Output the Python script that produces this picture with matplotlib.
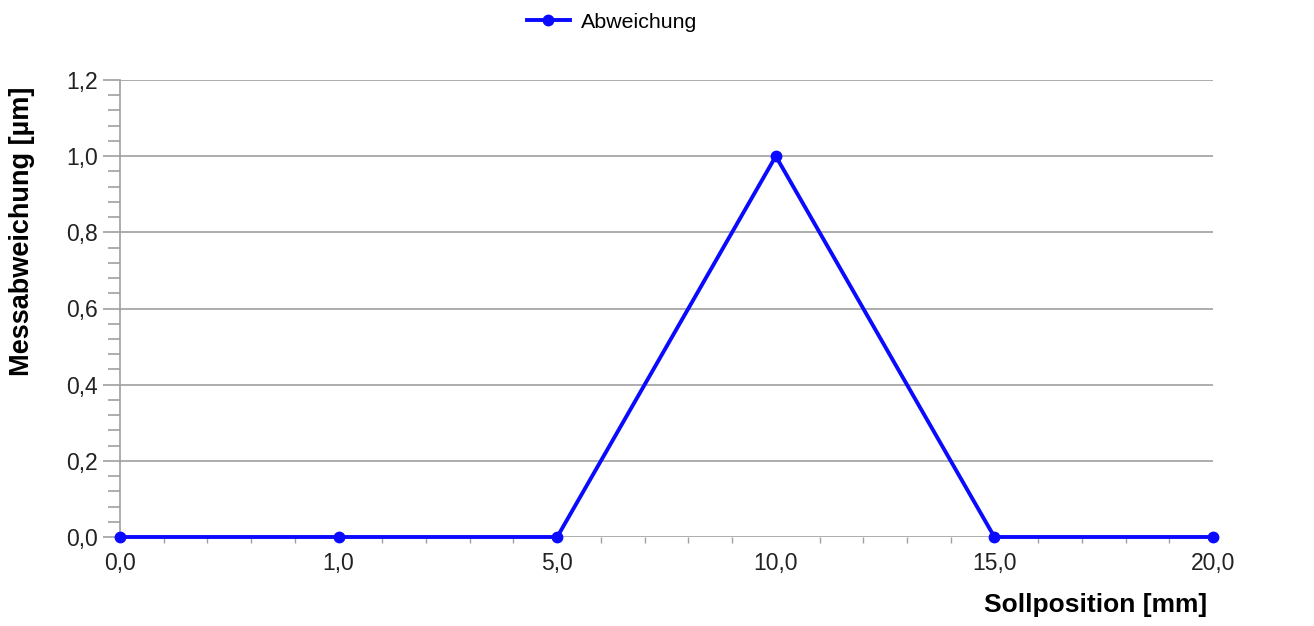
import matplotlib
matplotlib.use("Agg")
import matplotlib.pyplot as plt
from matplotlib.ticker import MultipleLocator, FixedLocator
import numpy as np

plt.rcParams['font.family'] = ['Liberation Sans', 'DejaVu Sans']

categories = ["0,0", "1,0", "5,0", "10,0", "15,0", "20,0"]
abweichung = [0.0, 0.0, 0.0, 1.0, 0.0, 0.0]
y_ticks = [0.0, 0.2, 0.4, 0.6, 0.8, 1.0, 1.2]
y_labels = ["0,0", "0,2", "0,4", "0,6", "0,8", "1,0", "1,2"]

fig = plt.figure(figsize=(13.14, 6.26), dpi=100)
ax = fig.add_axes([120/1314, 1-537/626, (1213-120)/1314, (537-80)/626])

x = np.arange(len(categories))
grid_c = "#a0a0a0"
for yt in y_ticks:
    ax.axhline(yt, color=grid_c, lw=1.2, zorder=1)

ax.plot(x, abweichung, color="#0a0aff", lw=2.8, marker="o", markersize=7.5,
        label="Abweichung", zorder=3, clip_on=False)

ax.set_xlim(0, len(categories)-1)
ax.set_ylim(0, 1.2)
ax.set_xticks(x)
ax.set_xticklabels(categories, fontsize=16.5)
ax.set_yticks(y_ticks)
ax.set_yticklabels(y_labels, fontsize=16.5)
ax.yaxis.set_minor_locator(MultipleLocator(0.04))
ax.xaxis.set_minor_locator(FixedLocator([i + k/5 for i in range(len(categories)-1) for k in range(1, 5)]))

for s in ["top", "right", "bottom"]:
    ax.spines[s].set_visible(False)
ax.spines["left"].set_color(grid_c)
ax.spines["left"].set_linewidth(1.2)

ax.tick_params(axis="y", which="major", length=12, width=1.2, color=grid_c, pad=4, labelcolor="#222222")
ax.tick_params(axis="y", which="minor", length=9, width=1.2, color=grid_c)
ax.tick_params(axis="x", which="major", length=0, pad=11, labelcolor="#222222")
ax.tick_params(axis="x", which="minor", length=4, width=1.0, color=grid_c)

fig.text(22/1314, 1-231/626, "Messabweichung [µm]", rotation=90, fontsize=19.5,
         fontweight="bold", ha="center", va="center")
fig.text(1207/1314, 1-605/626, "Sollposition [mm]", fontsize=19,
         fontweight="bold", ha="right", va="center")

leg = fig.legend(loc="center", bbox_to_anchor=(612/1314, 1-22/626), frameon=False,
                 fontsize=15.4, handlelength=2.0, handletextpad=0.5)

fig.savefig("out.png", dpi=100)
